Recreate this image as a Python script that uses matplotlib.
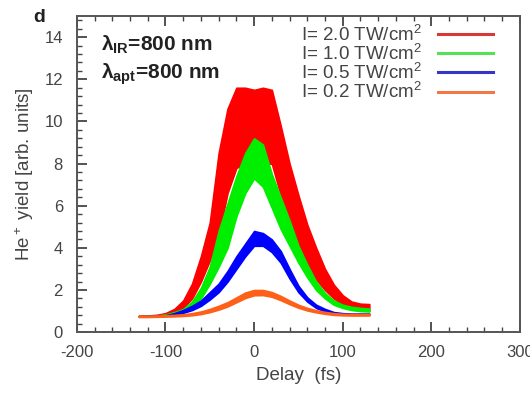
import matplotlib
matplotlib.use('Agg')
import matplotlib.pyplot as plt
from matplotlib.lines import Line2D
from matplotlib.ticker import MultipleLocator

plt.rcParams['font.family'] = ['Liberation Sans', 'DejaVu Sans']
plt.rcParams['axes.unicode_minus'] = False
plt.rcParams['mathtext.fontset'] = 'custom'
plt.rcParams['mathtext.rm'] = 'Liberation Sans'
plt.rcParams['mathtext.bf'] = 'Liberation Sans:bold'
plt.rcParams['mathtext.it'] = 'Liberation Sans:italic'

# delay (fs) and lower/upper envelopes of the oscillating He+ yield
delay = [-130, -120, -110, -100, -90, -80, -70, -60, -50, -40, -30, -20, -10,
         0, 10, 20, 30, 40, 50, 60, 70, 80, 90, 100, 110, 120, 130]

red_hi = [0.78, 0.79, 0.82, 0.90, 1.10, 1.50, 2.30, 3.60, 5.20, 8.50, 10.6, 11.6, 11.6,
          11.5, 11.6, 11.5, 9.8, 8.0, 6.5, 5.1, 4.0, 3.0, 2.25, 1.75, 1.45, 1.35, 1.33]
red_lo = [0.75, 0.76, 0.78, 0.82, 0.92, 1.15, 1.60, 2.40, 3.40, 4.60, 6.60, 7.80, 8.00,
          8.00, 8.00, 8.00, 6.50, 5.20, 4.00, 3.20, 2.50, 2.00, 1.60, 1.30, 1.12, 1.04, 1.02]

green_hi = [0.76, 0.77, 0.79, 0.84, 0.95, 1.10, 1.45, 2.10, 3.10, 4.80, 6.10, 7.40, 8.50,
            9.20, 8.90, 7.50, 6.40, 5.30, 4.10, 3.20, 2.40, 1.85, 1.50, 1.30, 1.20, 1.15, 1.12]
green_lo = [0.75, 0.76, 0.77, 0.80, 0.86, 0.97, 1.20, 1.60, 2.30, 3.10, 4.00, 5.50, 6.60,
            7.30, 6.90, 5.90, 4.90, 4.10, 3.30, 2.60, 2.00, 1.60, 1.30, 1.15, 1.05, 1.00, 0.98]

blue_hi = [0.76, 0.77, 0.78, 0.80, 0.90, 1.05, 1.25, 1.50, 1.90, 2.30, 2.90, 3.60, 4.20,
           4.80, 4.70, 4.40, 3.85, 3.00, 2.20, 1.65, 1.30, 1.10, 0.95, 0.90, 0.88, 0.88, 0.88]
blue_lo = [0.74, 0.75, 0.76, 0.77, 0.82, 0.92, 1.05, 1.25, 1.55, 1.90, 2.40, 3.00, 3.60,
           4.10, 4.10, 3.80, 3.30, 2.55, 1.90, 1.45, 1.15, 0.98, 0.88, 0.84, 0.83, 0.83, 0.83]

orange_hi = [0.78, 0.78, 0.79, 0.80, 0.82, 0.85, 0.90, 0.98, 1.10, 1.25, 1.42, 1.65, 1.88,
             2.00, 2.00, 1.90, 1.72, 1.50, 1.30, 1.15, 1.04, 0.96, 0.90, 0.87, 0.86, 0.86, 0.86]
orange_lo = [0.72, 0.72, 0.73, 0.74, 0.75, 0.77, 0.80, 0.86, 0.95, 1.07, 1.22, 1.42, 1.62,
             1.75, 1.76, 1.68, 1.52, 1.33, 1.16, 1.03, 0.94, 0.87, 0.82, 0.80, 0.79, 0.79, 0.79]

labels = ['I= 2.0 TW/cm$^2$', 'I= 1.0 TW/cm$^2$', 'I= 0.5 TW/cm$^2$', 'I= 0.2 TW/cm$^2$']
colors = ['#ff0000', '#00ee00', '#0000ff', '#ff6018']
legend_colors = ['#d83838', '#55e055', '#3535c8', '#f07848']

fig = plt.figure(figsize=(5.3, 3.94), dpi=100)
ax = fig.add_axes([0.145, 0.157, 0.836, 0.802])

bands = [(red_lo, red_hi), (green_lo, green_hi), (blue_lo, blue_hi), (orange_lo, orange_hi)]
for (lo, hi), c in zip(bands, colors):
    ax.fill_between(delay, lo, hi, color=c, edgecolor=c, linewidth=1.2)

ax.set_xlim(-200, 300)
ax.set_ylim(0, 15)
ax.set_xticks([-200, -100, 0, 100, 200, 300])
ax.set_yticks([0, 2, 4, 6, 8, 10, 12, 14])
ax.xaxis.set_minor_locator(MultipleLocator(20))
ax.yaxis.set_minor_locator(MultipleLocator(0.4))
ax.tick_params(which='both', direction='in', top=True, right=False,
               colors='#444444', labelsize=12, labelcolor='#444444')
ax.tick_params(which='major', length=7, width=1.3)
ax.tick_params(axis='y', which='major', pad=10)
ax.tick_params(axis='x', which='major', pad=9)
ax.tick_params(which='minor', length=3.5, width=1.0)
for s in ax.spines.values():
    s.set_color('#555555')
    s.set_linewidth(1.4)

ax.set_xlabel('Delay  (fs)', fontsize=13.5, color='#444444', labelpad=5)
ax.set_ylabel('He$^+$ yield [arb. units]', fontsize=13.5, color='#444444', labelpad=6)

ax.text(0.055, 0.91, r'$\mathbf{\lambda_{IR}}$=800 nm', transform=ax.transAxes,
        fontsize=15, fontweight='bold', color='#222222', va='center')
ax.text(0.055, 0.815, r'$\mathbf{\lambda_{apt}}$=800 nm', transform=ax.transAxes,
        fontsize=15, fontweight='bold', color='#222222', va='center')
fig.text(0.062, 0.955, 'd', fontsize=14, fontweight='bold', color='#222222', va='center')

handles = [Line2D([0], [0], color=c, lw=2.2) for c in legend_colors]
ax.legend(handles, labels, loc='upper right', bbox_to_anchor=(0.968, 1.015),
          frameon=False, markerfirst=False, fontsize=13.5, handlelength=2.9,
          labelspacing=-0.05, handletextpad=0.9, labelcolor='#444444',
          borderpad=0.2)

fig.savefig('out.png', dpi=100)
